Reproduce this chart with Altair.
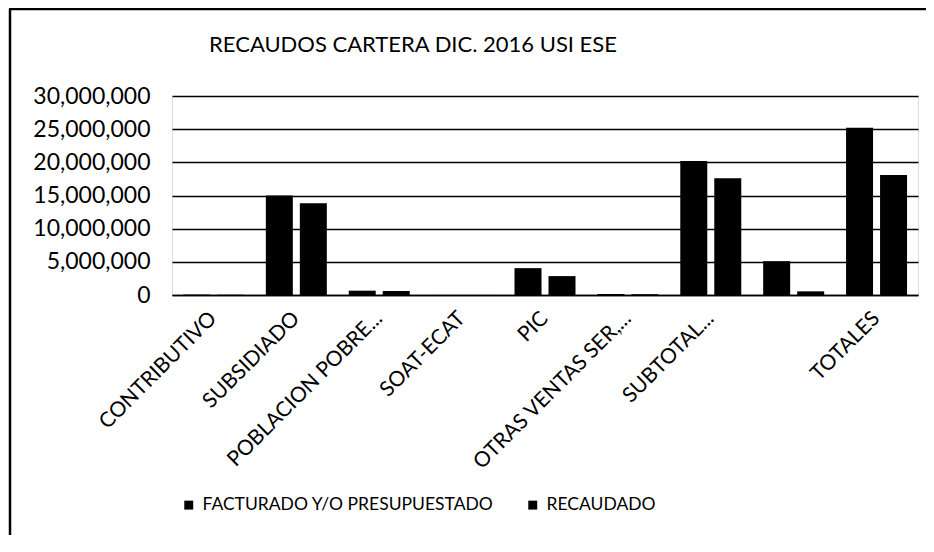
import altair as alt
import pandas as pd

title_text = "RECAUDOS CARTERA DIC. 2016 USI ESE"
categories = ["CONTRIBUTIVO", "SUBSIDIADO", "POBLACION POBRE...", "SOAT-ECAT", "PIC",
              "OTRAS VENTAS SER,...", "SUBTOTAL...", " ", "TOTALES"]
facturado = [60000, 15000000, 650000, 10000, 4050000, 150000, 20200000, 5100000, 25200000]
recaudado = [40000, 13850000, 600000, 10000, 2850000, 120000, 17600000, 550000, 18100000]
series = ["FACTURADO Y/O PRESUPUESTADO", "RECAUDADO"]
y_ticks = [0, 5000000, 10000000, 15000000, 20000000, 25000000, 30000000]

rows = []
for c, f, r in zip(categories, facturado, recaudado):
    rows.append({"cat": c, "serie": series[0], "valor": f})
    rows.append({"cat": c, "serie": series[1], "valor": r})
df = pd.DataFrame(rows)
one = pd.DataFrame({"t": [title_text]})

FONT = "Lato"

bars = alt.Chart(df).mark_bar(stroke=None).encode(
    x=alt.X("cat:N", sort=categories, title=None,
            scale=alt.Scale(paddingInner=0, paddingOuter=0),
            axis=alt.Axis(labelAngle=-45, labelFontSize=21, labelFont=FONT,
                          labelColor="black", ticks=False, domain=True,
                          domainColor="black", domainWidth=1.5, labelPadding=20,
                          labelBaseline="middle", labelAlign="right",
                          labelLimit=400, grid=False)),
    xOffset=alt.XOffset("serie:N", sort=series,
                        scale=alt.Scale(paddingInner=0.206, paddingOuter=0.322)),
    y=alt.Y("valor:Q", title=None,
            scale=alt.Scale(domain=[0, 30000000], nice=False),
            axis=alt.Axis(values=y_ticks, format=",.0f", labelFontSize=23, labelFont=FONT,
                          labelColor="black", ticks=False, domain=False,
                          gridColor="black", gridWidth=1.5, gridOpacity=1,
                          labelPadding=22)),
    color=alt.Color("serie:N", sort=series,
                    scale=alt.Scale(domain=series, range=["black", "black"]),
                    legend=alt.Legend(title=None, orient="none", direction="horizontal",
                                      legendX=8, legendY=400, symbolType="square",
                                      symbolSize=80, symbolStrokeWidth=0,
                                      labelFontSize=17.5, labelFont=FONT, labelColor="black",
                                      labelLimit=600, columnPadding=30, labelOffset=5)),
)

frame_top = alt.Chart(one).mark_rule(color="black", strokeWidth=2.5).encode(
    x=alt.value(-163), x2=alt.value(770), y=alt.value(-87))
frame_left = alt.Chart(one).mark_rule(color="black", strokeWidth=2.5).encode(
    x=alt.value(-162), y=alt.value(-87), y2=alt.value(470))

title = alt.Chart(one).mark_text(
    font=FONT, fontSize=22, fontWeight="normal", color="black",
    align="center", baseline="alphabetic").encode(
    text="t:N", x=alt.value(241), y=alt.value(-44))

chart = alt.layer(bars, frame_top, frame_left, title).properties(
    width=746, height=199,
    autosize=alt.AutoSizeParams(type="none"),
    padding={"left": 164, "top": 88, "right": 8, "bottom": 240},
).configure_view(stroke=None).configure(background="white")

chart.save("out.html", embed_options={"renderer": "svg", "actions": False})
